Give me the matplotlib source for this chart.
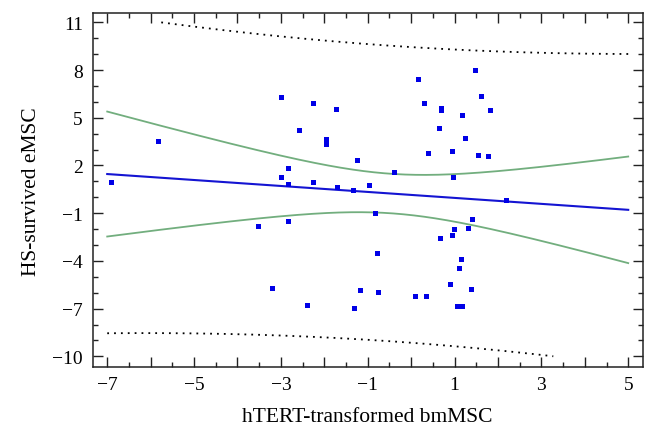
import matplotlib
matplotlib.use("Agg")
import matplotlib.pyplot as plt
import numpy as np
from matplotlib.ticker import MultipleLocator, FuncFormatter

plt.rcParams['font.family'] = ['Liberation Serif', 'DejaVu Serif']
plt.rcParams['axes.unicode_minus'] = True

# hTERT-transformed bmMSC (x) vs HS-survived eMSC (y)
bm_msc = [-6.92, -5.83, -3.53, -3.00, -2.25, -1.74, -2.59, -1.95, -1.95, -1.24,
          -2.83, -3.00, -2.83, -2.25, -1.70, -1.33, -0.98, -0.40, -0.83, -2.83,
          -0.79, -3.20, -1.18, -0.76, -2.40, -1.32, 1.47, 0.16, 1.60, 0.29,
          0.69, 0.69, 1.82, 1.17, 0.65, 1.25, 0.39, 0.94, 1.55, 1.76,
          0.97, 2.18, 1.41, 0.98, 1.32, 0.95, 0.67, 1.14, 1.10, 0.90,
          1.39, 0.09, 0.35, 1.05, 1.16]
e_msc = [0.99, 3.52, -1.83, 6.28, 5.91, 5.57, 4.25, 3.69, 3.32, 2.36,
         1.84, 1.26, 0.82, 0.94, 0.63, 0.46, 0.76, 1.57, -0.97, -1.49,
         -3.50, -5.72, -5.85, -5.98, -6.79, -6.96, 8.00, 7.44, 6.39, 5.93,
         5.61, 5.47, 5.49, 5.17, 4.34, 3.73, 2.76, 2.94, 2.69, 2.59,
         1.26, -0.19, -1.34, -2.00, -1.91, -2.39, -2.56, -3.87, -4.45, -5.45,
         -5.79, -6.23, -6.23, -6.86, -6.86]

# regression summary as shown in the figure (line, 95% CI, 95% prediction)
fit_intercept = 0.15
fit_slope = -0.1875
resid_sd = 4.59
x_mean = -0.46
x_ss = 261.0
t95 = 2.006
x_range = (-7, 5)
y_range = (-10, 11)

x = np.array(bm_msc)
y = np.array(e_msc)
n = len(x)

xx = np.linspace(x_range[0], x_range[1], 300)
fit = fit_intercept + fit_slope * xx
ci = t95 * resid_sd * np.sqrt(1 / n + (xx - x_mean) ** 2 / x_ss)
pi = t95 * resid_sd * np.sqrt(1 + 1 / n + (xx - x_mean) ** 2 / x_ss)
pi_hi = np.where(fit + pi <= y_range[1], fit + pi, np.nan)
pi_lo = np.where(fit - pi >= y_range[0], fit - pi, np.nan)

fig = plt.figure(figsize=(6.57, 4.39), dpi=100)
ax = fig.add_axes([0.141, 0.161, 0.837, 0.807])

ax.plot(xx, pi_hi, color='black', lw=1.3, dashes=(1, 2.8))
ax.plot(xx, pi_lo, color='black', lw=1.3, dashes=(1, 2.8))
ax.plot(xx, fit + ci, color='#72ae7e', lw=1.3)
ax.plot(xx, fit - ci, color='#72ae7e', lw=1.3)
ax.plot(xx, fit, color='#1414d2', lw=1.5)
ax.plot(x, y, 's', color='#0000e6', markersize=3.6, markeredgewidth=0)

ax.set_xlim(-7.336, 5.33)
ax.set_ylim(-10.69, 11.585)

ax.xaxis.set_major_locator(MultipleLocator(1))
ax.xaxis.set_minor_locator(MultipleLocator(0.5))
ax.xaxis.set_major_formatter(FuncFormatter(
    lambda v, p: f"{v:.0f}".replace('-', '\u2212') if round(v) % 2 else ""))
ax.yaxis.set_major_locator(MultipleLocator(3, offset=2))
ax.yaxis.set_minor_locator(MultipleLocator(1))

ax.tick_params(which='both', direction='in', top=True, right=True,
               width=1.0, color='#222222', labelsize=14)
ax.tick_params(which='major', length=7)
ax.tick_params(which='minor', length=3.8)
ax.tick_params(axis='x', pad=6.5)
ax.tick_params(axis='y', pad=7)
for sp in ax.spines.values():
    sp.set_linewidth(1.1)
    sp.set_color('#222222')

ax.set_xlabel('hTERT-transformed bmMSC', fontsize=15.5)
ax.set_ylabel('HS-survived eMSC', fontsize=15.5)
ax.xaxis.set_label_coords(0.5, -0.112)
ax.yaxis.set_label_coords(-0.094, 0.5)

fig.savefig('out.png', dpi=100)
